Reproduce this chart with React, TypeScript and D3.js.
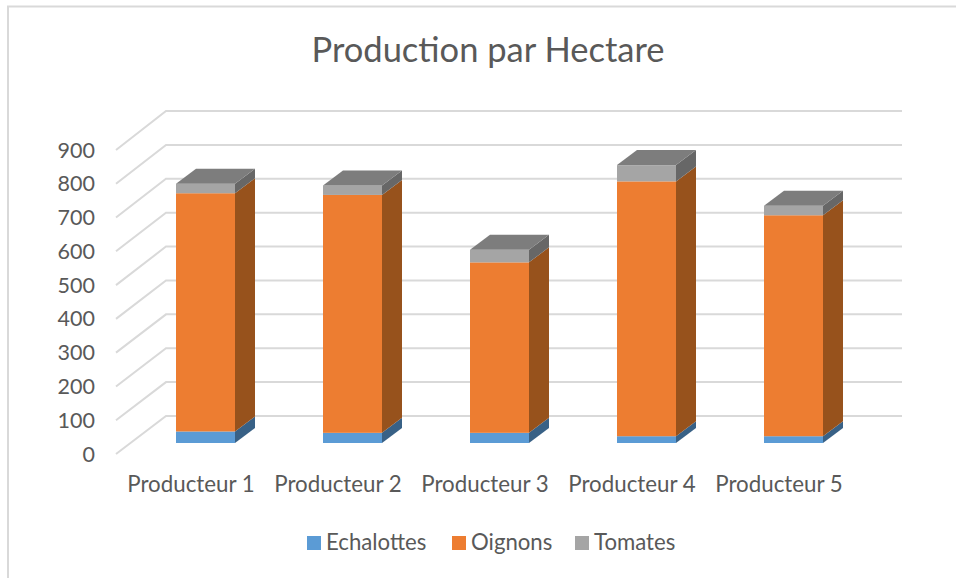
import React from "react";
import * as d3 from "d3";

const categories = ["Producteur 1", "Producteur 2", "Producteur 3", "Producteur 4", "Producteur 5"];
const echalottes = [34, 30, 30, 20, 20];
const oignons = [703, 702, 503, 752, 652];
const tomates = [28, 28, 37, 48, 28];
const yTicks = [0, 100, 200, 300, 400, 500, 600, 700, 800, 900];
const title = "Production par Hectare";
const seriesNames = ["Echalottes", "Oignons", "Tomates"];
const seriesValues = [echalottes, oignons, tomates];
const front = ["#5B9BD5", "#ED7D31", "#A5A5A5"];
const side = ["#386186", "#97521C", "#676767"];
const topFace = ["#497CAA", "#BE6427", "#7D7D7D"];
const legendX = [307, 452, 575];

const FONT = "Lato, 'Open Sans', sans-serif";
const TEXT = "#595959";
const GRID = "#D9D9D9";

// wall plane scale, front (axis) plane scale, bar plane scale
const yBack = d3.scaleLinear().domain([0, 900]).range([416, 111]);
const yFront = d3.scaleLinear().domain([0, 900]).range([454, 150]);
const yBar = d3.scaleLinear().domain([0, 900]).range([443, 138]);
const barX = (i: number) => 176 + 147 * i;
const barW = 59;
const DX = 20;
const DY = 15;

export default function App() {
  const stacks = categories.map((_, i) => {
    let acc = 0;
    return seriesValues.map((s, k) => {
      const y0 = acc;
      acc += s[i];
      return { k, y0, y1: acc };
    });
  });
  return (
    <svg width={956} height={578} style={{ position: "fixed", left: 0, top: 0, background: "#fff" }} fontFamily={FONT}>
      <path d="M8 578V6.5H956" fill="none" stroke={GRID} strokeWidth={2} />
      <text x={488} y={62} textAnchor="middle" fontSize={34.5} fill={TEXT}>{title}</text>

      {yTicks.map((t) => (
        <g key={t}>
          <path
            d={`M116 ${yFront(t)}L166 ${yBack(t)}H902`}
            fill="none"
            stroke={GRID}
            strokeWidth={2}
          />
          <text x={95} y={yFront(t) + 7.5} textAnchor="end" fontSize={21.5} fill={TEXT}>{t}</text>
        </g>
      ))}

      {stacks.map((stack, i) => {
        const x0 = barX(i);
        const x1 = x0 + barW;
        return (
          <g key={categories[i]}>
            {stack.map((d) => (
              <g key={d.k}>
                <rect x={x0} y={yBar(d.y1)} width={barW} height={yBar(d.y0) - yBar(d.y1)} fill={front[d.k]} />
                <polygon
                  points={`${x1},${yBar(d.y0)} ${x1 + DX},${yBar(d.y0) - DY} ${x1 + DX},${yBar(d.y1) - DY} ${x1},${yBar(d.y1)}`}
                  fill={side[d.k]}
                />
              </g>
            ))}
            <polygon
              points={`${x0},${yBar(stack[2].y1)} ${x0 + DX},${yBar(stack[2].y1) - DY} ${x1 + DX},${yBar(stack[2].y1) - DY} ${x1},${yBar(stack[2].y1)}`}
              fill={topFace[2]}
            />
            <text x={x0 + 15} y={492} textAnchor="middle" fontSize={22.3} fill={TEXT}>{categories[i]}</text>
          </g>
        );
      })}

      {seriesNames.map((n, k) => (
        <g key={n}>
          <rect x={legendX[k]} y={536} width={14} height={14} fill={front[k]} />
          <text x={legendX[k] + 19} y={550} fontSize={22.2} fill={TEXT}>{n}</text>
        </g>
      ))}
    </svg>
  );
}
